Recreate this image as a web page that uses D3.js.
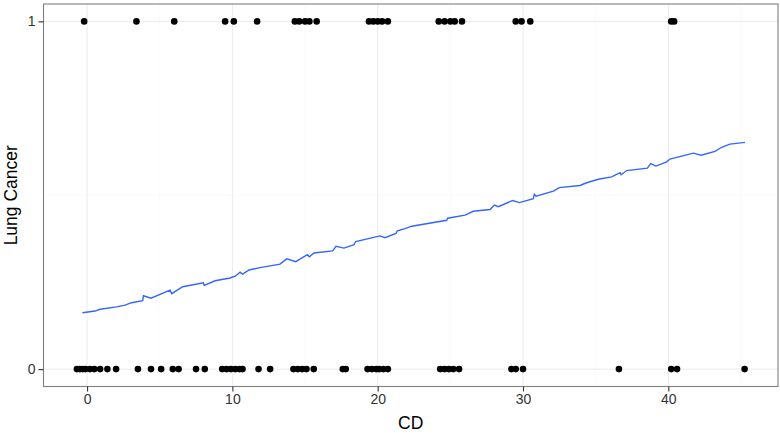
<!DOCTYPE html>
<html lang="en">
<head>
<meta charset="UTF-8">
<title>Lung Cancer vs CD</title>
<script src="https://d3js.org/d3.v7.min.js"></script>
<style>
    body { margin: 0; background: #fff; }
    svg { display: block; font-family: "Liberation Sans", Arial, sans-serif; }
    .tick-label { font-size: 14px; fill: #333; }
    .axis-title { font-size: 17.5px; fill: #000; }
</style>
</head>
<body>
<div id="chart"></div>
<script>
    // CD values of observations with Lung Cancer = 0
    const zeroCD = [-0.7, -0.5, -0.3, -0.1, 0.2, 0.5, 0.9, 1.4, 2.0, 3.5, 4.4, 5.1, 5.9, 6.3,
        7.5, 8.1, 9.3, 9.6, 9.9, 10.2, 10.5, 10.7, 11.8, 12.6, 14.2, 14.5, 14.8, 15.1, 15.6,
        17.6, 17.8, 19.3, 19.6, 19.9, 20.1, 20.4, 20.7, 24.3, 24.6, 24.9, 25.2, 25.6,
        29.2, 29.5, 30.0, 36.6, 40.2, 40.6, 45.25];
    // CD values of observations with Lung Cancer = 1
    const oneCD = [-0.2, 3.4, 6.0, 9.5, 10.1, 11.7, 14.3, 14.6, 15.0, 15.3, 15.8,
        19.4, 19.7, 20.0, 20.3, 20.7, 24.2, 24.6, 25.0, 25.3, 25.8, 29.5, 29.9, 30.5, 40.2, 40.4];

    // fitted curve (blue line)
    const fitX = [-0.32, 0.55, 0.89, 2.04, 2.61, 3.07, 3.83, 3.88, 4.40, 5.71, 5.83, 6.58, 8.00, 8.07,
        8.81, 9.84, 10.23, 10.53, 10.71, 11.15, 11.90, 13.28, 13.74, 14.36, 15.16, 15.30, 15.62,
        16.90, 17.13, 17.68, 18.37, 18.49, 20.16, 20.50, 21.26, 21.35, 21.88, 22.34, 24.75, 24.82,
        26.01, 26.58, 27.73, 28.03, 28.30, 29.29, 29.75, 30.71, 30.78, 30.90, 32.09, 32.50, 33.92,
        34.38, 35.18, 36.10, 36.68, 36.75, 37.13, 38.56, 38.79, 39.15, 39.89, 40.11, 41.72, 42.25,
        43.21, 43.67, 44.24, 45.28];
    const fitY = [0.162, 0.167, 0.172, 0.179, 0.184, 0.191, 0.197, 0.211, 0.204, 0.227, 0.217, 0.237, 0.248, 0.241,
        0.254, 0.262, 0.268, 0.279, 0.273, 0.285, 0.292, 0.302, 0.317, 0.309, 0.329, 0.323, 0.334,
        0.340, 0.353, 0.348, 0.358, 0.367, 0.383, 0.378, 0.390, 0.398, 0.404, 0.411, 0.428, 0.434,
        0.443, 0.454, 0.459, 0.472, 0.467, 0.485, 0.479, 0.490, 0.503, 0.497, 0.512, 0.522, 0.528,
        0.536, 0.546, 0.553, 0.565, 0.559, 0.571, 0.578, 0.591, 0.584, 0.596, 0.604, 0.621, 0.615,
        0.626, 0.638, 0.647, 0.652];

    const xTicks = [0, 10, 20, 30, 40];
    const xMinor = [5, 15, 25, 35, 45];
    const yTicks = [0, 1];
    const yMinor = [0.5];

    const W = 780, H = 433;
    const margin = { top: 4, right: 2, bottom: 46.5, left: 43.5 };
    const width = W - margin.left - margin.right;
    const height = H - margin.top - margin.bottom;

    const svg = d3.select("#chart").append("svg")
        .attr("width", W)
        .attr("height", H);

    const g = svg.append("g")
        .attr("transform", `translate(${margin.left},${margin.top})`);

    // data range with 5% expansion (ggplot style)
    const allX = zeroCD.concat(oneCD);
    const xr = d3.extent(allX);
    const xPad = (xr[1] - xr[0]) * 0.05;
    const x = d3.scaleLinear().domain([xr[0] - xPad, xr[1] + xPad]).range([0, width]);
    const y = d3.scaleLinear().domain([-0.05, 1.05]).range([height, 0]);

    // grid
    g.selectAll(".xminor").data(xMinor.filter(v => x(v) < width)).enter().append("line")
        .attr("x1", d => x(d)).attr("x2", d => x(d))
        .attr("y1", 0).attr("y2", height)
        .attr("stroke", "#fafafa").attr("stroke-width", 1);
    g.selectAll(".yminor").data(yMinor).enter().append("line")
        .attr("x1", 0).attr("x2", width)
        .attr("y1", d => y(d)).attr("y2", d => y(d))
        .attr("stroke", "#fafafa").attr("stroke-width", 1);
    g.selectAll(".xmajor").data(xTicks).enter().append("line")
        .attr("x1", d => x(d)).attr("x2", d => x(d))
        .attr("y1", 0).attr("y2", height)
        .attr("stroke", "#ebebeb").attr("stroke-width", 1);
    g.selectAll(".ymajor").data(yTicks).enter().append("line")
        .attr("x1", 0).attr("x2", width)
        .attr("y1", d => y(d)).attr("y2", d => y(d))
        .attr("stroke", "#ebebeb").attr("stroke-width", 1);

    // points
    const pts = zeroCD.map(v => ({ x: v, y: 0 })).concat(oneCD.map(v => ({ x: v, y: 1 })));
    g.selectAll(".pt").data(pts).enter().append("circle")
        .attr("cx", d => x(d.x))
        .attr("cy", d => y(d.y))
        .attr("r", 3.3)
        .attr("fill", "#000");

    // fitted line
    const line = d3.line().x(d => x(d[0])).y(d => y(d[1]));
    g.append("path")
        .datum(fitX.map((v, i) => [v, fitY[i]]))
        .attr("d", line)
        .attr("fill", "none")
        .attr("stroke", "#3366ff")
        .attr("stroke-width", 1.4);

    // panel border
    g.append("rect")
        .attr("width", width).attr("height", height)
        .attr("fill", "none")
        .attr("stroke", "#7f7f7f")
        .attr("stroke-width", 1.1);

    // axes
    const xAxis = g.append("g")
        .attr("transform", `translate(0,${height})`)
        .call(d3.axisBottom(x).tickValues(xTicks).tickSize(5).tickPadding(3).tickFormat(d3.format("d")));
    const yAxis = g.append("g")
        .call(d3.axisLeft(y).tickValues(yTicks).tickSize(5).tickPadding(3).tickFormat(d3.format("d")));

    [xAxis, yAxis].forEach(a => {
        a.select(".domain").remove();
        a.selectAll(".tick line").attr("stroke", "#333").attr("stroke-width", 1.1);
        a.selectAll(".tick text").attr("class", "tick-label").attr("font-size", null).attr("font-family", null);
    });

    // axis titles
    svg.append("text")
        .attr("class", "axis-title")
        .attr("x", margin.left + width / 2)
        .attr("y", 429)
        .attr("text-anchor", "middle")
        .text("CD");

    svg.append("text")
        .attr("class", "axis-title")
        .attr("transform", `translate(17,${margin.top + height / 2}) rotate(-90)`)
        .attr("text-anchor", "middle")
        .text("Lung Cancer");
</script>
</body>
</html>
